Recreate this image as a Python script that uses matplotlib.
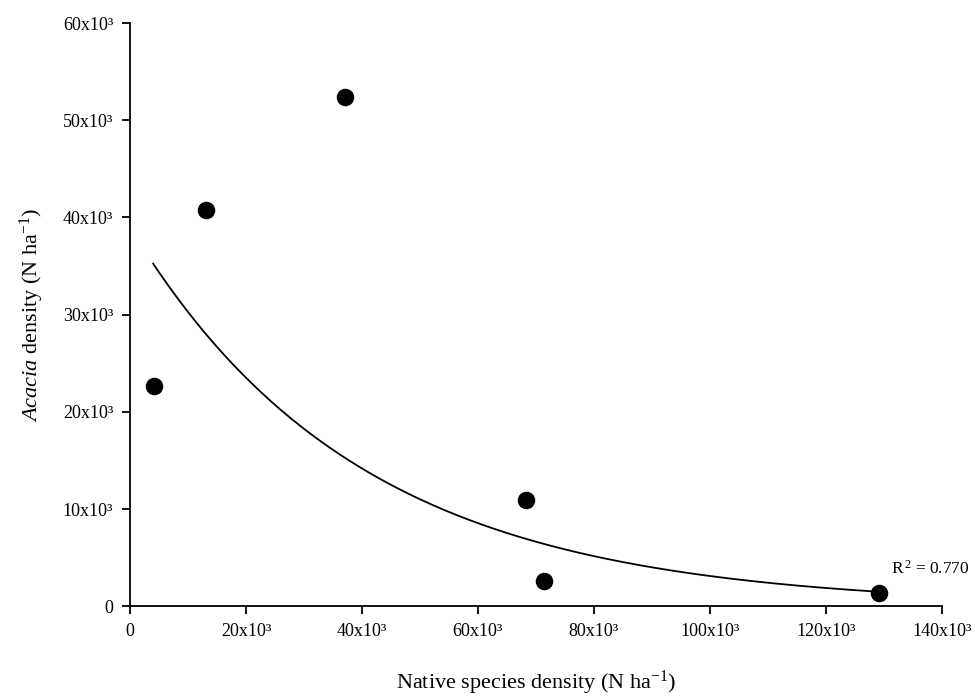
import numpy as np
import matplotlib
matplotlib.use("Agg")
import matplotlib.pyplot as plt

plt.rcParams['font.family'] = ['Liberation Serif', 'DejaVu Serif']
plt.rcParams['mathtext.fontset'] = 'custom'
plt.rcParams['mathtext.rm'] = 'Liberation Serif'
plt.rcParams['mathtext.it'] = 'Liberation Serif:italic'

# data (individuals per ha)
native_density = [4.1e3, 13.1e3, 37.1e3, 68.3e3, 71.4e3, 129.1e3]
acacia_density = [22.7e3, 40.8e3, 52.4e3, 10.9e3, 2.6e3, 1.4e3]

# exponential decay fit y = a * exp(-b * x)
fit_a = 39.0e3
fit_b = 2.53e-5
fit_range = (4e3, 129e3)
r2_text = r"R$^{\,2}$ = 0.770"

x_ticks = [0, 20e3, 40e3, 60e3, 80e3, 100e3, 120e3, 140e3]
x_labels = ["0", "20x10³", "40x10³", "60x10³", "80x10³", "100x10³", "120x10³", "140x10³"]
y_ticks = [0, 10e3, 20e3, 30e3, 40e3, 50e3, 60e3]
y_labels = ["0", "10x10³", "20x10³", "30x10³", "40x10³", "50x10³", "60x10³"]

fig = plt.figure(figsize=(9.75, 7), dpi=100)
ax = fig.add_axes([0.1333, 0.134, 0.8327, 0.833])

xs = np.linspace(fit_range[0], fit_range[1], 300)
ax.plot(xs, fit_a * np.exp(-fit_b * xs), color='black', lw=1.3)
ax.scatter(native_density, acacia_density, s=135, color='black', zorder=3)

ax.text(131.3e3, 3.3e3, r2_text, fontsize=12.5, ha='left', va='baseline')

ax.set_xlim(0, 140e3)
ax.set_ylim(0, 60e3)
ax.set_xticks(x_ticks)
ax.set_xticklabels(x_labels)
ax.set_yticks(y_ticks)
ax.set_yticklabels(y_labels)

for s in ['top', 'right']:
    ax.spines[s].set_visible(False)
for s in ['left', 'bottom']:
    ax.spines[s].set_linewidth(1.3)
ax.tick_params(direction='out', length=6, width=1.3, labelsize=13, pad=6)

ax.set_xlabel("Native species density (N ha$^{-1}$)", fontsize=16, labelpad=21)
ax.set_ylabel("$\\it{Acacia}$ density (N ha$^{-1}$)", fontsize=16, labelpad=12)

fig.savefig("out.png", dpi=100)
